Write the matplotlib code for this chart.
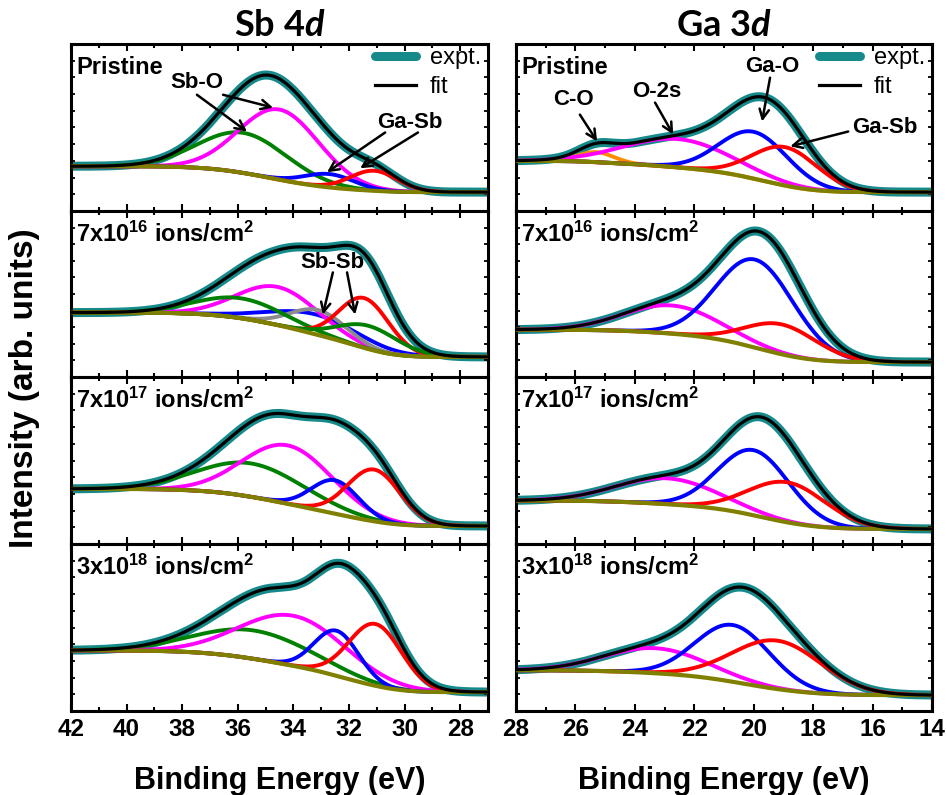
import numpy as np
import matplotlib
matplotlib.use("Agg")
import matplotlib.pyplot as plt
from matplotlib.ticker import MultipleLocator, NullFormatter

plt.rcParams['font.family'] = ['Liberation Sans', 'DejaVu Sans']
plt.rcParams['font.weight'] = 'bold'
plt.rcParams['mathtext.fontset'] = 'custom'
plt.rcParams['mathtext.rm'] = 'Liberation Sans:bold'
plt.rcParams['mathtext.bf'] = 'Liberation Sans:bold'
plt.rcParams['mathtext.it'] = 'Lato:bold:italic'

# ---------------- data ----------------
PANEL_LABELS = ['Pristine',
                r'7x10$^{16}$ ions/cm$^{2}$',
                r'7x10$^{17}$ ions/cm$^{2}$',
                r'3x10$^{18}$ ions/cm$^{2}$']

C_GREEN, C_MAG, C_BLUE, C_RED = '#008000', '#ff00ff', '#0000ff', '#ff0000'
C_GREY, C_ORANGE, C_OLIVE = '#8c8c8c', '#ff8c00', '#808000'
C_EXPT = '#168a8a'

# Sb 4d: per panel component colours, centres (eV), heights, widths (sigma, eV)
SB_COLORS = [[C_GREEN, C_MAG, C_BLUE, C_RED],
             [C_BLUE, C_MAG, C_GREY, C_GREEN, C_RED, C_GREEN],
             [C_GREEN, C_MAG, C_BLUE, C_RED],
             [C_GREEN, C_MAG, C_BLUE, C_RED]]
SB_CENTERS = [[35.8, 34.5, 32.7, 31.1],
              [33.2, 34.55, 33.1, 35.9, 31.45, 31.3],
              [35.5, 34.2, 32.5, 31.1],
              [35.4, 34.0, 32.45, 31.05]]
SB_HEIGHTS = [[0.24, 0.42, 0.08, 0.12],
              [0.12, 0.23, 0.15, 0.12, 0.30, 0.14],
              [0.20, 0.35, 0.20, 0.31],
              [0.17, 0.30, 0.27, 0.37]]
SB_SIGMAS = [[1.6, 1.45, 0.9, 0.85],
             [1.6, 1.45, 1.0, 1.6, 0.9, 1.1],
             [1.9, 1.6, 0.85, 0.95],
             [2.1, 1.9, 0.8, 0.95]]
SB_BG_HIGH = [0.268, 0.388, 0.33, 0.363]
SB_BG_LOW = [0.113, 0.121, 0.108, 0.113]

# Ga 3d
GA_COLORS = [[C_ORANGE, C_MAG, C_BLUE, C_RED],
             [C_MAG, C_BLUE, C_RED],
             [C_MAG, C_BLUE, C_RED],
             [C_MAG, C_BLUE, C_RED]]
GA_CENTERS = [[25.3, 22.55, 20.0, 18.94],
              [22.75, 19.95, 19.05],
              [22.9, 20.0, 18.85],
              [23.3, 20.7, 19.2]]
GA_HEIGHTS = [[0.06, 0.17, 0.28, 0.23],
              [0.17, 0.53, 0.18],
              [0.155, 0.39, 0.24],
              [0.15, 0.34, 0.29]]
GA_SIGMAS = [[0.6, 1.8, 1.15, 1.1],
             [1.6, 1.3, 1.2],
             [1.7, 1.2, 1.3],
             [1.7, 1.25, 1.5]]
GA_BG_HIGH = [0.30, 0.285, 0.26, 0.244]
GA_BG_LOW = [0.113, 0.09, 0.09, 0.095]

SB_XLIM = (42, 27)
GA_XLIM = (28, 14)
SB_XTICKS = [42, 40, 38, 36, 34, 32, 30, 28]
GA_XTICKS = [28, 26, 24, 22, 20, 18, 16, 14]

# ---------------- figure ----------------
W, H = 946, 795
fig = plt.figure(figsize=(W / 100, H / 100), dpi=100)

def px_axes(x0, x1, y_top, y_bot):
    return fig.add_axes([x0 / W, 1 - y_bot / H, (x1 - x0) / W, (y_bot - y_top) / H])

PANEL_EDGES = [44, 211, 377, 544, 711]


def draw_panel(ax, xlim, colors, centers, heights, sigmas, bg_hi, bg_lo):
    lo, hi = min(xlim), max(xlim)
    e = np.linspace(lo, hi, 700)
    comps = [h * np.exp(-(e - c) ** 2 / (2 * s ** 2))
             for c, h, s in zip(centers, heights, sigmas)]
    total = np.sum(comps, axis=0)
    cum = np.cumsum(total)
    bg = bg_lo + (bg_hi - bg_lo) * cum / cum[-1]
    fit = bg + total
    ax.plot(e, fit, color=C_EXPT, lw=6.5, solid_capstyle='round', zorder=1)
    for col, comp in zip(colors, comps):
        ax.plot(e, bg + comp, color=col, lw=2.8, zorder=2)
    ax.plot(e, bg, color=C_OLIVE, lw=3.0, zorder=3)
    ax.plot(e, fit, color='black', lw=2.3, zorder=4)
    ax.set_xlim(*xlim)
    ax.set_ylim(0, 1)


def style_axes(ax, ticks, bottom):
    for sp in ax.spines.values():
        sp.set_linewidth(2.2)
    ax.set_xticks(ticks)
    ax.xaxis.set_minor_locator(MultipleLocator(1))
    ax.yaxis.set_major_locator(MultipleLocator(0.1))
    ax.yaxis.set_major_formatter(NullFormatter())
    ax.tick_params(axis='x', which='both', direction='in', top=True, bottom=True,
                   width=1.5, labelsize=17.5, pad=5)
    ax.tick_params(axis='x', which='major', length=5)
    ax.tick_params(axis='x', which='minor', length=3)
    ax.tick_params(axis='y', which='both', direction='in', left=True, right=True,
                   width=1.3, length=3)
    if not bottom:
        ax.xaxis.set_major_formatter(NullFormatter())
    else:
        for t in ax.get_xticklabels():
            t.set_fontweight('bold')


sb_axes, ga_axes = [], []
for i in range(4):
    ax = px_axes(71, 488, PANEL_EDGES[i], PANEL_EDGES[i + 1])
    draw_panel(ax, SB_XLIM, SB_COLORS[i], SB_CENTERS[i], SB_HEIGHTS[i], SB_SIGMAS[i],
               SB_BG_HIGH[i], SB_BG_LOW[i])
    style_axes(ax, SB_XTICKS, i == 3)
    ax.text(0.012, 0.86, PANEL_LABELS[i], transform=ax.transAxes, fontsize=17,
            fontweight='bold', ha='left', va='center')
    sb_axes.append(ax)

    ax2 = px_axes(516, 932, PANEL_EDGES[i], PANEL_EDGES[i + 1])
    draw_panel(ax2, GA_XLIM, GA_COLORS[i], GA_CENTERS[i], GA_HEIGHTS[i], GA_SIGMAS[i],
               GA_BG_HIGH[i], GA_BG_LOW[i])
    style_axes(ax2, GA_XTICKS, i == 3)
    ax2.text(0.012, 0.86, PANEL_LABELS[i], transform=ax2.transAxes, fontsize=17,
             fontweight='bold', ha='left', va='center')
    ga_axes.append(ax2)

# legends
for ax in (sb_axes[0], ga_axes[0]):
    h1, = ax.plot([], [], color=C_EXPT, lw=6.5, solid_capstyle='round')
    h2, = ax.plot([], [], color='black', lw=2.3)
    leg = ax.legend([h1, h2], ['expt.', 'fit'], loc='upper right', frameon=False,
                    fontsize=17, handlelength=1.7, handletextpad=0.6,
                    labelspacing=0.3, borderaxespad=0.0, borderpad=0.12,
                    bbox_to_anchor=(0.99, 1.0))
    for t in leg.get_texts():
        t.set_fontweight('normal')

arrow = dict(arrowstyle='->', lw=1.8, color='black', shrinkA=0, shrinkB=0,
             mutation_scale=17)
fs = 16

# Sb pristine annotations
a = sb_axes[0]
a.text(37.47, 0.77, 'Sb-O', fontsize=fs, fontweight='bold', ha='center', va='center')
a.annotate('', xy=(35.67, 0.476), xytext=(37.47, 0.696), arrowprops=arrow)
a.annotate('', xy=(34.73, 0.619), xytext=(36.53, 0.696), arrowprops=arrow)
a.text(29.8, 0.53, 'Ga-Sb', fontsize=fs, fontweight='bold', ha='center', va='center')
a.annotate('', xy=(32.79, 0.232), xytext=(30.7, 0.47), arrowprops=arrow)
a.annotate('', xy=(31.6, 0.256), xytext=(29.52, 0.47), arrowprops=arrow)

# Sb 7e16 annotations
a = sb_axes[1]
a.text(32.6, 0.69, 'Sb-Sb', fontsize=fs, fontweight='bold', ha='center', va='center')
a.annotate('', xy=(32.94, 0.376), xytext=(32.58, 0.63), arrowprops=arrow)
a.annotate('', xy=(31.78, 0.376), xytext=(32.07, 0.63), arrowprops=arrow)

# Ga pristine annotations
a = ga_axes[0]
a.text(26.08, 0.667, 'C-O', fontsize=fs, fontweight='bold', ha='center', va='center')
a.annotate('', xy=(25.27, 0.417), xytext=(25.85, 0.577), arrowprops=arrow)
a.text(23.25, 0.714, 'O-2s', fontsize=fs, fontweight='bold', ha='center', va='center')
a.annotate('', xy=(22.71, 0.458), xytext=(23.32, 0.649), arrowprops=arrow)
a.text(19.38, 0.863, 'Ga-O', fontsize=fs, fontweight='bold', ha='center', va='center')
a.annotate('', xy=(19.72, 0.536), xytext=(19.45, 0.798), arrowprops=arrow)
a.text(15.58, 0.50, 'Ga-Sb', fontsize=fs, fontweight='bold', ha='center', va='center')
a.annotate('', xy=(18.77, 0.387), xytext=(16.82, 0.476), arrowprops=arrow)

# titles and axis labels
fig.text(279.5 / W, 1 - 25 / H, r'Sb 4$\mathit{d}$', fontsize=26, fontweight='bold',
         family='Lato', ha='center', va='center')
fig.text(724 / W, 1 - 25 / H, r'Ga 3$\mathit{d}$', fontsize=26, fontweight='bold',
         family='Lato', ha='center', va='center')
fig.text(279.5 / W, 1 - 789 / H, 'Binding Energy (eV)', fontsize=22, fontweight='bold',
         ha='center', va='baseline')
fig.text(724 / W, 1 - 789 / H, 'Binding Energy (eV)', fontsize=22, fontweight='bold',
         ha='center', va='baseline')
fig.text(25 / W, 1 - 388 / H, 'Intensity (arb. units)', fontsize=24, fontweight='bold',
         rotation=90, ha='center', va='center')

fig.savefig('out.png', dpi=100)
